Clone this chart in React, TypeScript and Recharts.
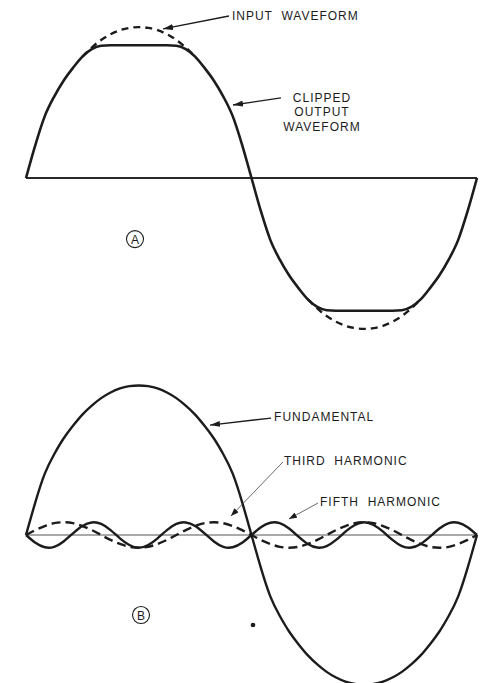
import React from 'react';
import { LineChart, Line, XAxis, YAxis, ReferenceLine, ReferenceDot } from 'recharts';

// phase angle (degrees) across one cycle
const DEG = [0, 7.5, 15, 22.5, 30, 37.5, 45, 52.5, 60, 67.5, 75, 82.5, 90, 97.5, 105, 112.5, 120, 127.5, 135, 142.5, 150, 157.5, 165, 172.5, 180, 187.5, 195, 202.5, 210, 217.5, 225, 232.5, 240, 247.5, 255, 262.5, 270, 277.5, 285, 292.5, 300, 307.5, 315, 322.5, 330, 337.5, 345, 352.5, 360];

// Panel A (peak = 100)
const INPUT_WAVE = [null, null, null, null, null, null, 80.5, 86.5, 91.5, 95.3, 98, 99.5, 100, 99.5, 98, 95.3, 91.5, 86.5, 80.5, null, null, null, null, null, null, null, null, null, null, null, -80.5, -86.5, -91.5, -95.3, -98, -99.5, -100, -99.5, -98, -95.3, -91.5, -86.5, -80.5, null, null, null, null, null, null];
const CLIPPED_WAVE = [0, 22, 41, 54, 64.5, 73, 80.5, 85.5, 87.7, 88, 88, 88, 88, 88, 88, 88, 87.7, 85.5, 80.5, 73, 64.5, 54, 41, 22, 0, -22, -41, -54, -64.5, -73, -80.5, -85.5, -87.7, -88, -88, -88, -88, -88, -88, -88, -87.7, -85.5, -80.5, -73, -64.5, -54, -41, -22, 0];

// Panel B
const FUNDAMENTAL = [0, 22, 41, 54, 64.5, 73, 80.5, 86.5, 91.5, 95.3, 98, 99.5, 100, 99.5, 98, 95.3, 91.5, 86.5, 80.5, 73, 64.5, 54, 41, 22, 0, -22, -41, -54, -64.5, -73, -80.5, -86.5, -91.5, -95.3, -98, -99.5, -100, -99.5, -98, -95.3, -91.5, -86.5, -80.5, -73, -64.5, -54, -41, -22, 0];
const THIRD_HARMONIC = [0, 3.3, 6, 7.9, 8.5, 7.9, 6, 3.3, 0, -3.3, -6, -7.9, -8.5, -7.9, -6, -3.3, 0, 3.3, 6, 7.9, 8.5, 7.9, 6, 3.3, 0, -3.3, -6, -7.9, -8.5, -7.9, -6, -3.3, 0, 3.3, 6, 7.9, 8.5, 7.9, 6, 3.3, 0, -3.3, -6, -7.9, -8.5, -7.9, -6, -3.3, 0];
const FIFTH_HARMONIC = [0, -5.2, -8.2, -7.9, -4.3, 1.1, 6, 8.4, 7.4, 3.3, -2.2, -6.7, -8.5, -6.7, -2.2, 3.3, 7.4, 8.4, 6, 1.1, -4.3, -7.9, -8.2, -5.2, 0, 5.2, 8.2, 7.9, 4.3, -1.1, -6, -8.4, -7.4, -3.3, 2.2, 6.7, 8.5, 6.7, 2.2, -3.3, -7.4, -8.4, -6, -1.1, 4.3, 7.9, 8.2, 5.2, 0];

const LABEL_INPUT = ['INPUT  WAVEFORM'];
const LABEL_CLIPPED = ['CLIPPED', 'OUTPUT', 'WAVEFORM'];
const LABEL_FUND = ['FUNDAMENTAL'];
const LABEL_THIRD = ['THIRD  HARMONIC'];
const LABEL_FIFTH = ['FIFTH  HARMONIC'];

const dataA = DEG.map((d, i) => ({ deg: d, input: INPUT_WAVE[i], clipped: CLIPPED_WAVE[i] }));
const dataB = DEG.map((d, i) => ({ deg: d, fund: FUNDAMENTAL[i], third: THIRD_HARMONIC[i], fifth: FIFTH_HARMONIC[i] }));

const INK = '#1c1c1c';
const FONT = '"Liberation Sans", Arial, sans-serif';

const textShape = (lines: string[], anchor: 'start' | 'middle' = 'start', lh = 14.5) => (p: any) => (
  <text
    x={p.cx}
    y={p.cy}
    fill={INK}
    fontFamily={FONT}
    fontSize={12}
    letterSpacing={1}
    textAnchor={anchor}
    dominantBaseline="central"
  >
    {lines.map((l, i) => (
      <tspan key={i} x={p.cx} dy={i === 0 ? 0 : lh} style={{ whiteSpace: 'pre' }}>
        {l}
      </tspan>
    ))}
  </text>
);

const circledShape = (letter: string) => (p: any) => (
  <g>
    <circle cx={p.cx} cy={p.cy} r={8.5} fill="none" stroke={INK} strokeWidth={1.1} />
    <text x={p.cx} y={p.cy + 0.5} fill={INK} fontFamily={FONT} fontSize={12} textAnchor="middle" dominantBaseline="central">
      {letter}
    </text>
  </g>
);

const dotShape = (p: any) => <circle cx={p.cx} cy={p.cy} r={2.3} fill={INK} />;

export default function App() {
  return (
    <div style={{ position: 'absolute', left: 0, top: 0, width: 483, height: 683, overflow: 'hidden', background: '#fff' }}>
      <svg width={0} height={0} style={{ position: 'absolute' }}>
        <defs>
          <marker id="arrowHead" viewBox="0 0 10 6" refX={10} refY={3} markerWidth={10} markerHeight={6} markerUnits="userSpaceOnUse" orient="auto">
            <path d="M0,0 L10,3 L0,6 z" fill={INK} />
          </marker>
          <marker id="arrowSmall" viewBox="0 0 8 6" refX={8} refY={3} markerWidth={8} markerHeight={6} markerUnits="userSpaceOnUse" orient="auto">
            <path d="M0,0 L8,3 L0,6 z" fill={INK} />
          </marker>
        </defs>
      </svg>

      <div style={{ position: 'absolute', left: 0, top: 0 }}>
        <LineChart width={483} height={360} data={dataA} margin={{ top: 0, right: 6, bottom: 4, left: 26 }}>
          <XAxis dataKey="deg" type="number" domain={[0, 360]} hide />
          <YAxis type="number" domain={[-118, 118]} hide width={0} />
          <ReferenceLine y={0} stroke="#2a2a2a" strokeWidth={1.8} />
          <Line dataKey="input" type="natural" stroke={INK} strokeWidth={2.4} strokeDasharray="7 5" dot={false} activeDot={false} isAnimationActive={false} />
          <Line dataKey="clipped" type="monotone" stroke={INK} strokeWidth={2.6} dot={false} activeDot={false} isAnimationActive={false} />
          <ReferenceLine ifOverflow="visible" segment={[{ x: 162, y: 107.4 }, { x: 109.4, y: 98.8 }]} stroke={INK} strokeWidth={1.3} markerEnd="url(#arrowHead)" />
          <ReferenceLine ifOverflow="visible" segment={[{ x: 203.5, y: 53.1 }, { x: 165.2, y: 48.4 }]} stroke={INK} strokeWidth={1.3} markerEnd="url(#arrowHead)" />
          <ReferenceDot ifOverflow="visible" x={164.4} y={107.4} r={0} shape={textShape(LABEL_INPUT)} />
          <ReferenceDot ifOverflow="visible" x={236.3} y={53.1} r={0} shape={textShape(LABEL_CLIPPED, 'middle')} />
          <ReferenceDot ifOverflow="visible" x={87} y={-40.5} r={0} shape={circledShape('A')} />
        </LineChart>
      </div>

      <div style={{ position: 'absolute', left: 0, top: 360 }}>
        <LineChart width={483} height={350} data={dataB} margin={{ top: 0, right: 6, bottom: 0, left: 26 }}>
          <XAxis dataKey="deg" type="number" domain={[0, 360]} hide />
          <YAxis type="number" domain={[-117, 117]} hide width={0} />
          <ReferenceLine y={0} stroke="#555" strokeWidth={1} />
          <Line dataKey="fund" type="natural" stroke={INK} strokeWidth={2.4} dot={false} activeDot={false} isAnimationActive={false} />
          <Line dataKey="third" type="natural" stroke={INK} strokeWidth={2.4} strokeDasharray="9 5" dot={false} activeDot={false} isAnimationActive={false} />
          <Line dataKey="fifth" type="natural" stroke={INK} strokeWidth={2.4} dot={false} activeDot={false} isAnimationActive={false} />
          <ReferenceLine ifOverflow="visible" segment={[{ x: 195.6, y: 78.2 }, { x: 146.9, y: 73.5 }]} stroke={INK} strokeWidth={1.3} markerEnd="url(#arrowHead)" />
          <ReferenceLine ifOverflow="visible" segment={[{ x: 205.1, y: 48.8 }, { x: 163.6, y: 12.7 }]} stroke="#444" strokeWidth={0.8} markerEnd="url(#arrowSmall)" />
          <ReferenceLine ifOverflow="visible" segment={[{ x: 233.1, y: 21.4 }, { x: 209.9, y: 10.7 }]} stroke="#444" strokeWidth={0.8} markerEnd="url(#arrowSmall)" />
          <ReferenceDot ifOverflow="visible" x={198} y={78.9} r={0} shape={textShape(LABEL_FUND)} />
          <ReferenceDot ifOverflow="visible" x={205.9} y={49.5} r={0} shape={textShape(LABEL_THIRD)} />
          <ReferenceDot ifOverflow="visible" x={234.7} y={22.1} r={0} shape={textShape(LABEL_FIFTH)} />
          <ReferenceDot ifOverflow="visible" x={91.8} y={-53.5} r={0} shape={circledShape('B')} />
          <ReferenceDot ifOverflow="visible" x={181.2} y={-60.2} r={0} shape={dotShape} />
        </LineChart>
      </div>
    </div>
  );
}
